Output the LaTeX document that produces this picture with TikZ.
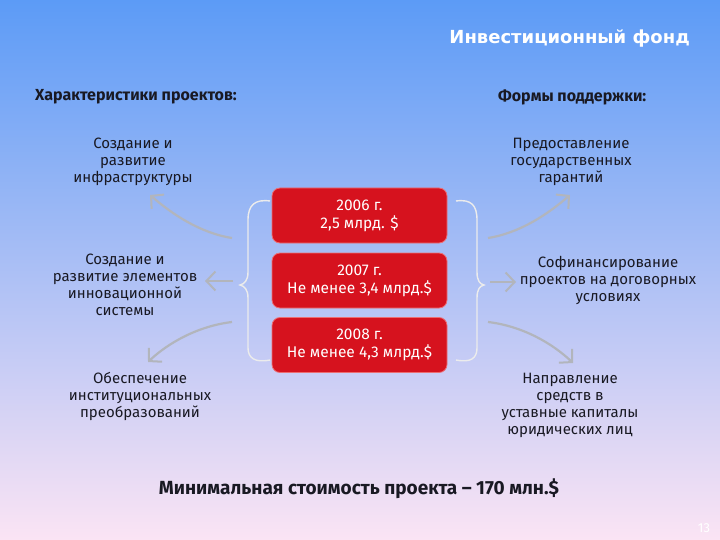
\documentclass[tikz,border=0pt]{standalone}
\usepackage{fontspec}
\setmainfont{Fira Sans}
\newfontfamily\titlefont{DejaVu Sans}
\usetikzlibrary{arrows.meta}
\definecolor{bgtop}{RGB}{92,155,246}
\definecolor{bgmid}{RGB}{168,204,245}
\definecolor{bgbot}{RGB}{251,228,244}
\definecolor{boxred}{RGB}{214,18,30}
\definecolor{boxedge}{RGB}{235,110,115}
\definecolor{txt}{RGB}{25,25,35}
\definecolor{arrowgray}{RGB}{178,181,188}
\tikzset{
  lbl/.style={align=center, text=txt, font=\fontsize{15}{17}\selectfont, inner sep=0pt},
  hdr/.style={anchor=west, text=txt, font=\fontsize{16}{19}\selectfont\bfseries, inner sep=0pt},
  redbox/.style={fill=boxred, draw=boxedge, line width=0.8pt, rounded corners=8pt,
     minimum width=175pt, minimum height=55pt, text=white, align=center,
     font=\fontsize{15.5}{18}\selectfont},
  arr/.style={draw=arrowgray, line width=2.2pt, -{Straight Barb[length=9pt,width=19pt,line width=2pt]}},
  brace/.style={draw=white!85!gray, line width=1.4pt}
}
\begin{document}
\begin{tikzpicture}[x=1pt,y=-1pt]
\useasboundingbox (0,0) rectangle (720,540);
\shade[top color=bgtop, middle color=bgmid, bottom color=bgbot] (0,0) rectangle (720,540);

\node[anchor=east, text=white, font=\titlefont\fontsize{18}{21}\selectfont\bfseries, inner sep=0pt] (title) at (690,38) {Инвестиционный фонд};

\node[hdr] (hleft) at (35,97) {Характеристики проектов:};
\node[hdr] (hright) at (498,97) {Формы поддержки:};

\node[redbox] (b1) at (359.5,215.5) {2006 г.\\2,5 млрд. \$};
\node[redbox] (b2) at (359.5,280.5) {2007 г.\\Не менее 3,4 млрд.\$};
\node[redbox] (b3) at (359.5,345) {2008 г.\\Не менее 4,3 млрд.\$};

\node[lbl] (l1) at (133,162) {Создание и\\развитие\\инфраструктуры};
\node[lbl] (l2) at (125,284.5) {Создание и\\развитие элементов\\инновационной\\системы};
\node[lbl] (l3) at (140,396.5) {Обеспечение\\институциональных\\преобразований};

\node[lbl] (r1) at (571,162) {Предоставление\\государственных\\гарантий};
\node[lbl] (r2) at (608,280.5) {Софинансирование\\проектов на договорных\\условиях};
\node[lbl] (r3) at (570,405.5) {Направление\\средств в\\уставные капиталы\\юридических лиц};

\node[text=txt, font=\fontsize{19}{22}\selectfont\bfseries, inner sep=0pt] (bottom) at (359,489) {Минимальная стоимость проекта – 170 млн.\$};
\node[text=white, font=\fontsize{13}{15}\selectfont, inner sep=0pt] (pg) at (704,528) {13};

% braces
\draw[brace] (270,201) .. controls (255,199) and (248,205) .. (248,220) -- (248,272)
  .. controls (248,281) and (244,284) .. (240,285) .. controls (244,286) and (248,289) .. (248,298)
  -- (248,348) .. controls (248,358) and (255,363) .. (270,360);
\draw[brace] (456,201) .. controls (471,199) and (477,205) .. (477,220) -- (477,272)
  .. controls (477,281) and (480,284) .. (484,285) .. controls (480,286) and (477,289) .. (477,298)
  -- (477,348) .. controls (477,358) and (471,363) .. (456,360);

% arrow anchors
\coordinate (sl1) at (232,238); \coordinate (el1) at (150,195);
\coordinate (sl2) at (233,281); \coordinate (el2) at (205,281);
\coordinate (sl3) at (232,322); \coordinate (el3) at (148,362);
\coordinate (sr1) at (488,238); \coordinate (er1) at (570,195);
\coordinate (sr2) at (490,282); \coordinate (er2) at (516,282);
\coordinate (sr3) at (488,322); \coordinate (er3) at (573,363);

\draw[arr] (sl1) .. controls (200,233) and (172,214) .. (el1);
\draw[arr] (sl2) -- (el2);
\draw[arr] (sl3) .. controls (198,326) and (168,343) .. (el3);
\draw[arr] (sr1) .. controls (520,233) and (548,214) .. (er1);
\draw[arr] (sr2) -- (er2);
\draw[arr] (sr3) .. controls (522,326) and (552,343) .. (er3);
\end{tikzpicture}
\end{document}
